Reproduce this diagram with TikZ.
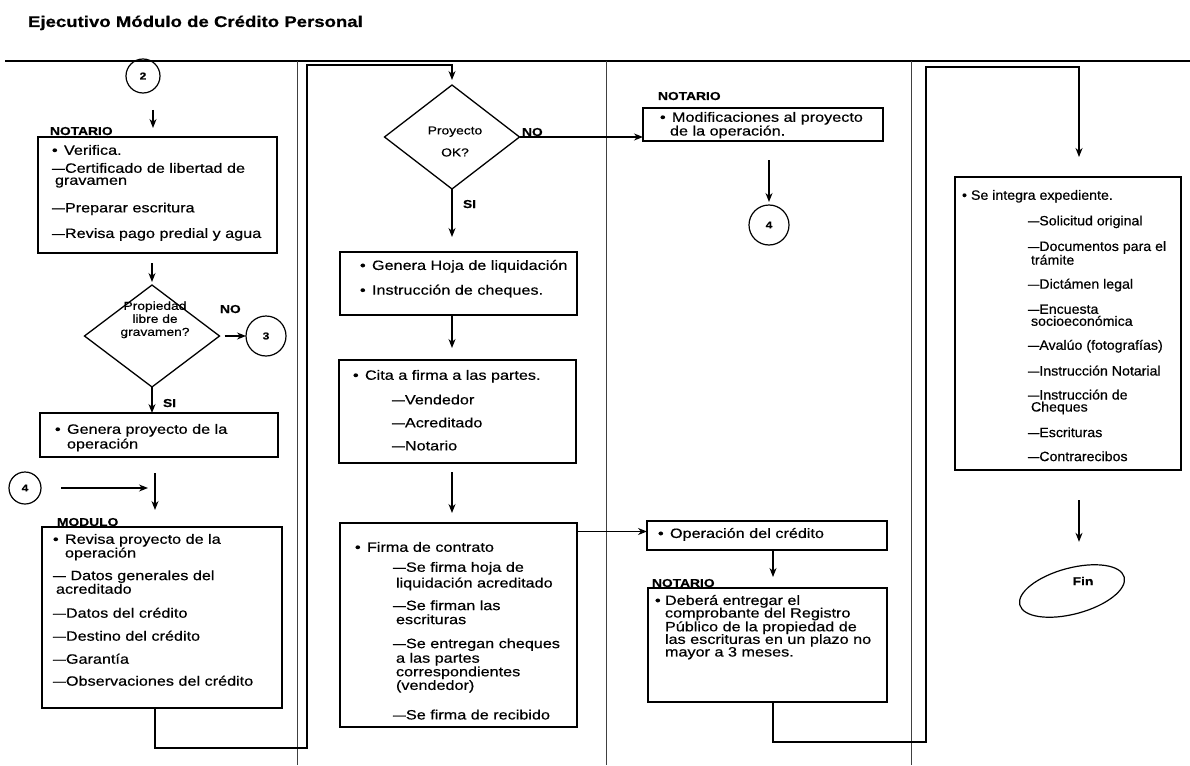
\documentclass[tikz,border=0pt]{standalone}
\usepackage{fontspec}
\usepackage{graphicx}
\setmainfont{Liberation Sans}[FakeStretch=1.2, FakeBold=0.5]
\newfontfamily\narrowfont{Liberation Sans}[FakeStretch=1.05, FakeBold=0.5]
\usetikzlibrary{shapes.geometric,arrows.meta}
\newcommand{\bl}[1][12pt]{\makebox[#1][l]{•}}
\newcommand{\dsh}{\scalebox{0.8}[1]{—}}
\begin{document}
\begin{tikzpicture}[x=1pt,y=-1pt,
  every node/.style={inner sep=0pt, outer sep=0pt},
  box/.style={draw, line width=1.4pt, anchor=north west, rectangle},
  txt/.style={anchor=north west, align=left, font=\fontsize{13.5}{12}\selectfont},
  dtxt/.style={anchor=north, align=center, font=\fontsize{11.5}{13}\selectfont},
  lab/.style={anchor=base west, font=\bfseries\fontsize{11.5}{12}\selectfont},
  circ/.style={circle, draw, line width=1.2pt, minimum size=#1, font=\bfseries\fontsize{10}{10}\selectfont},
  dia/.style={diamond, draw, line width=1.3pt},
  conn/.style={line width=1.2pt},
  arr/.style={conn, -{Stealth[length=9pt,width=7pt]}},
  lane/.style={line width=0.7pt, black!75},
  ttl/.style={anchor=base west, font=\bfseries\fontsize{15.5}{18}\selectfont}
]
\useasboundingbox (0,0) rectangle (1190,765);

% heading and swim lanes
\node[ttl] (title) at (28,27) {Ejecutivo Módulo de Crédito Personal};
\draw[line width=1.2pt] (5,61) -- (1190,61);
\draw[lane] (297,61) -- (297,765);
\draw[lane] (606,61) -- (606,765);
\draw[lane] (911,61) -- (911,765);

% ---------- lane 1 ----------
\node[circ=34pt] (c2) at (143,76) {2};
\node[lab] (l1) at (50,135) {NOTARIO};
\node[box, minimum width=239pt, minimum height=116pt] (b1) at (38,137) {};
\node[txt] (b1t) at (52,145) {\bl Verifica.\\[6pt]
\dsh Certificado de libertad de\\
\hspace*{3pt}gravamen\\[14pt]
\dsh Preparar escritura\\[12pt]
\dsh Revisa pago predial y agua};

\node[dia, minimum width=135pt, minimum height=102pt] (d1) at (152,336) {};
\node[dtxt] (d1t) at (155,301.5) {Propiedad\\libre de\\gravamen?};
\node[circ=40pt] (c3) at (266,336) {3};
\node[lab, font=\bfseries\fontsize{11.5}{12}\selectfont] (no1) at (220,313) {NO};
\node[lab, font=\bfseries\fontsize{11.5}{12}\selectfont] (si1) at (163,407) {SI};

\node[box, minimum width=238pt, minimum height=44pt] (b2) at (40,413) {};
\node[txt] (b2t) at (55,424) {\bl Genera proyecto de la\\[1pt]
\hspace*{12pt}operación};

\node[circ=32pt] (c4a) at (25,488) {4};
\coordinate (j4) at (148,488);
\node[lab] (l2) at (57,526) {MODULO};
\node[box, minimum width=240pt, minimum height=181pt] (b3) at (42,527) {};
\node[txt] (b3t) at (53,534) {\bl Revisa proyecto de la\\
\hspace*{12pt}operación\\[9pt]
\dsh\ Datos generales del\\
\hspace*{3pt}acreditado\\[12pt]
\dsh Datos del crédito\\[11pt]
\dsh Destino del crédito\\[11pt]
\dsh Garantía\\[10pt]
\dsh Observaciones del crédito};

% ---------- lane 2 ----------
\node[dia, minimum width=135pt, minimum height=104pt] (d2) at (452,137) {};
\node[dtxt] (d2t) at (455,126.5) {Proyecto\\[9pt]OK?};
\node[lab] (no2) at (522,136) {NO};
\node[lab] (si2) at (463,208) {SI};

\node[box, minimum width=237pt, minimum height=63pt] (b4) at (340,252) {};
\node[txt] (b4t) at (360,260) {\bl Genera Hoja de liquidación\\[11pt]
\bl Instrucción de cheques.};

\node[box, minimum width=237pt, minimum height=103pt] (b5) at (339,360) {};
\node[txt] (b5t) at (353,370) {\bl Cita a firma a las partes.\\[11pt]
\hspace*{39pt}\dsh Vendedor\\[11pt]
\hspace*{39pt}\dsh Acreditado\\[11pt]
\hspace*{39pt}\dsh Notario};

\node[box, minimum width=237pt, minimum height=204pt] (b6) at (340,523) {};
\node[txt] (b6t) at (355,542) {\bl Firma de contrato\\[8pt]
\hspace*{38pt}\dsh Se firma hoja de\\[2pt]
\hspace*{41pt}liquidación acreditado\\[9pt]
\hspace*{38pt}\dsh Se firman las\\[2pt]
\hspace*{41pt}escrituras\\[12pt]
\hspace*{38pt}\dsh Se entregan cheques\\[1pt]
\hspace*{41pt}a las partes\\
\hspace*{41pt}correspondientes\\
\hspace*{41pt}(vendedor)\\[16pt]
\hspace*{38pt}\dsh Se firma de recibido};

% ---------- lane 3 ----------
\node[lab] (l3) at (658,100) {NOTARIO};
\node[box, minimum width=240pt, minimum height=33pt] (b9) at (643,108) {};
\node[txt] (b9t) at (660,112) {\bl Modificaciones al proyecto\\
\hspace*{10pt}de la operación.};
\node[circ=40pt] (c4b) at (769,225) {4};

\node[box, minimum width=240pt, minimum height=29pt] (b7) at (647,521) {};
\node[txt] (b7t) at (658,528) {\bl Operación del crédito};
\node[lab] (l4) at (652,587) {NOTARIO};
\node[box, minimum width=239pt, minimum height=114pt] (b8) at (648,588) {};
\node[txt, font=\fontsize{13.5}{12.6}\selectfont] (b8t) at (655,595) {\bl[10pt]Deberá entregar el\\
\hspace*{10pt}comprobante del Registro\\
\hspace*{10pt}Público de la propiedad de\\
\hspace*{10pt}las escrituras en un plazo no\\
\hspace*{10pt}mayor a 3 meses.};

% ---------- lane 4 ----------
\node[box, minimum width=226pt, minimum height=293pt] (b10) at (955,177) {};
\node[txt, font=\narrowfont\fontsize{13.5}{12}\selectfont] (b10t) at (962,190) {\bl[9pt]Se integra expediente.\\[12pt]
\hspace*{66pt}\dsh Solicitud original\\[12pt]
\hspace*{66pt}\dsh Documentos para el\\
\hspace*{69pt}trámite\\[12pt]
\hspace*{66pt}\dsh Dictámen legal\\[12pt]
\hspace*{66pt}\dsh Encuesta\\
\hspace*{69pt}socioeconómica\\[12pt]
\hspace*{66pt}\dsh Avalúo (fotografías)\\[12pt]
\hspace*{66pt}\dsh Instrucción Notarial\\[12pt]
\hspace*{66pt}\dsh Instrucción de\\
\hspace*{69pt}Cheques\\[12pt]
\hspace*{66pt}\dsh Escrituras\\[12pt]
\hspace*{66pt}\dsh Contrarecibos};

\node[font=\bfseries\fontsize{11.5}{11}\selectfont] (fin) at (1083,581) {Fin};
\draw[line width=1.2pt, rotate around={15:(1072,591)}] (1072,591) ellipse (54 and 23);

% ---------- connectors ----------
\coordinate (ax1) at (153,0);
\coordinate (ax1b) at (155,0);
\draw[arr, shorten <=17pt, shorten >=9pt] (c2.south -| ax1) -- (b1.north -| ax1);
\draw[arr, shorten <=10pt, shorten >=3pt] (b1.south -| d1.north) -- (d1.north);
\draw[arr, shorten <=5pt] (d1.east) -- (c3.west);
\draw[arr] (d1.south) -- (d1.south |- b2.north);
\draw[arr, shorten <=16pt, shorten >=17pt] (b2.south -| ax1b) -- (b3.north -| ax1b);
\draw[arr, shorten <=20pt] (c4a.east) -- (j4);

\coordinate (k1) at (155,748);
\coordinate (k2) at (307,748);
\coordinate (k3) at (307,65);
\draw[arr, shorten >=5pt] (b3.south -| k1) -- (k1) -- (k2) -- (k3) -| (d2.north);

\coordinate (ax2) at (452,0);
\draw[arr] (d2.east) -- (d2.east -| b9.west);
\draw[arr, shorten >=15pt] (d2.south) -- (d2.south |- b4.north);
\draw[arr, shorten >=12pt] (b4.south -| ax2) -- (b5.north -| ax2);
\draw[arr, shorten <=9pt, shorten >=10pt] (b5.south -| ax2) -- (b6.north -| ax2);
\path ([yshift=4pt]b7.west) coordinate (b7in);
\draw[arr] (b7in -| b6.east) -- (b7in);

\draw[arr, shorten <=19pt, shorten >=3pt] (b9.south -| c4b) -- (c4b.north);
\coordinate (ax3) at (773,0);
\draw[arr, shorten >=11pt] (b7.south -| ax3) -- (b8.north -| ax3);

\coordinate (m1) at (773,742);
\coordinate (m2) at (926,742);
\coordinate (m3) at (926,67);
\draw[arr, shorten >=20pt] (b8.south -| m1) -- (m1) -- (m2) -- (m3) -| ([xshift=11pt]b10.north);
\draw[arr, shorten <=30pt, shorten >=35pt] ([xshift=11pt]b10.south) -- ([xshift=11pt]b10.south |- fin.north);
\end{tikzpicture}
\end{document}
